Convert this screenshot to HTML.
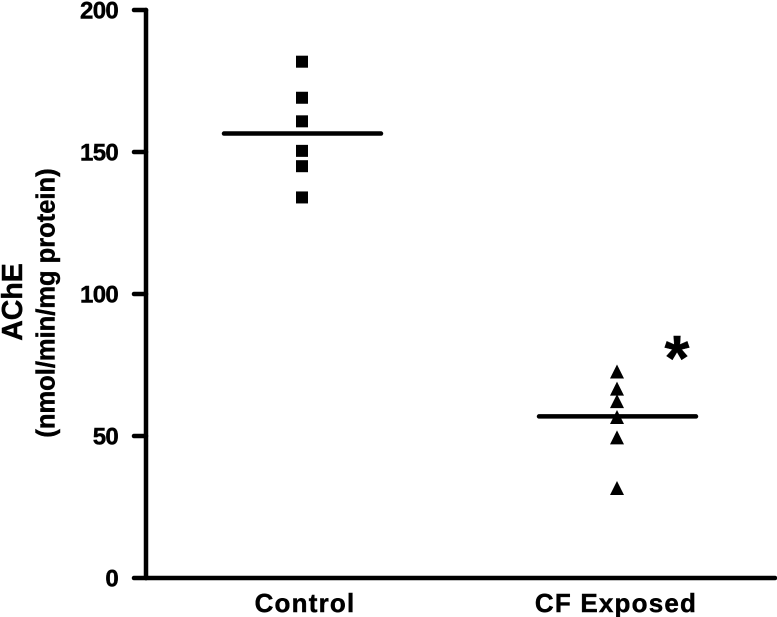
<!DOCTYPE html>
<html lang="en">
<head>
<meta charset="utf-8">
<title>AChE chart</title>
<style>
html,body{margin:0;padding:0;background:#fff;width:777px;height:617px;overflow:hidden}
svg{display:block}
text{font-family:"Liberation Sans",sans-serif;font-weight:700;fill:#000;stroke:#000;stroke-width:.45px}
</style>
</head>
<body>
<svg id="chart" xmlns="http://www.w3.org/2000/svg" width="777" height="617" viewBox="0 0 777 617">
<rect width="777" height="617" fill="#fff"/>
<g id="marks"></g>
<g id="axes"></g>
<text transform="translate(22,302) rotate(-90)" text-anchor="middle" font-size="28.5">AChE</text>
<text transform="translate(54.5,303) rotate(-90)" text-anchor="middle" font-size="25.5">(nmol/min/mg protein)</text>
<text x="677" y="380" text-anchor="middle" font-size="64">*</text>
</svg>
<script>
const categories = ["Control", "CF Exposed"];
const categoryLabelCenters = [305, 616];
const controlValues = [181.8, 169.1, 160.8, 150.4, 145, 134];
const exposedValues = [72.7, 66.7, 62.3, 56.7, 49.5, 31.7];
const meanValues = [156.5, 56.9];
const yTickValues = [0, 50, 100, 150, 200];
const yTickLabels = ["0", "50", "100", "150", "200"];

const NS = "http://www.w3.org/2000/svg";
const marks = document.getElementById("marks");
const axes = document.getElementById("axes");
const yScale = v => 578 - (v / 200) * 568;
const xScale = i => 302 + i * 315;

function make(parent, tag, attrs, text) {
  const el = document.createElementNS(NS, tag);
  for (const k in attrs) el.setAttribute(k, attrs[k]);
  if (text !== undefined) el.textContent = text;
  parent.appendChild(el);
  return el;
}
const lineStyle = {stroke: "#000", "stroke-width": 4.5, "stroke-linecap": "round"};

const yAxis = make(axes, "line", {x1: 146, x2: 146, y1: yScale(200), y2: yScale(0), ...lineStyle});


const xAxis = make(axes, "line", {x1: 146, x2: 775, y1: yScale(0), y2: yScale(0), ...lineStyle});



yTickValues.forEach((v, i) => {
  const tick = make(axes, "line", {x1: 134, x2: 146, y1: yScale(v), y2: yScale(v), ...lineStyle});
  
  
  const label = make(axes, "text", {x: 118, y: yScale(v) + 8.5, "text-anchor": "end", "font-size": 24, "letter-spacing": -0.7}, yTickLabels[i]);
  
  
});

categories.forEach((c, i) => {
  const label = make(axes, "text", {x: categoryLabelCenters[i], y: 612, "text-anchor": "middle", "font-size": 26, "letter-spacing": 1.2}, c);
  
  
});

meanValues.forEach((m, i) => {
  const x = xScale(i);
  const mean = make(marks, "line", {x1: x - 78, x2: x + 79, y1: yScale(m), y2: yScale(m), ...lineStyle});
  
  
});

controlValues.forEach(v => {
  const square = make(marks, "rect", {x: xScale(0) - 6, y: yScale(v) - 6, width: 12, height: 12, fill: "#000"});
  
  
});

exposedValues.forEach(v => {
  const cx = xScale(1), cy = yScale(v);
  const tri = make(marks, "polygon", {points: `${cx},${cy - 7} ${cx + 7},${cy + 7} ${cx - 7},${cy + 7}`, fill: "#000"});
  
  
});
</script>
</body>
</html>
